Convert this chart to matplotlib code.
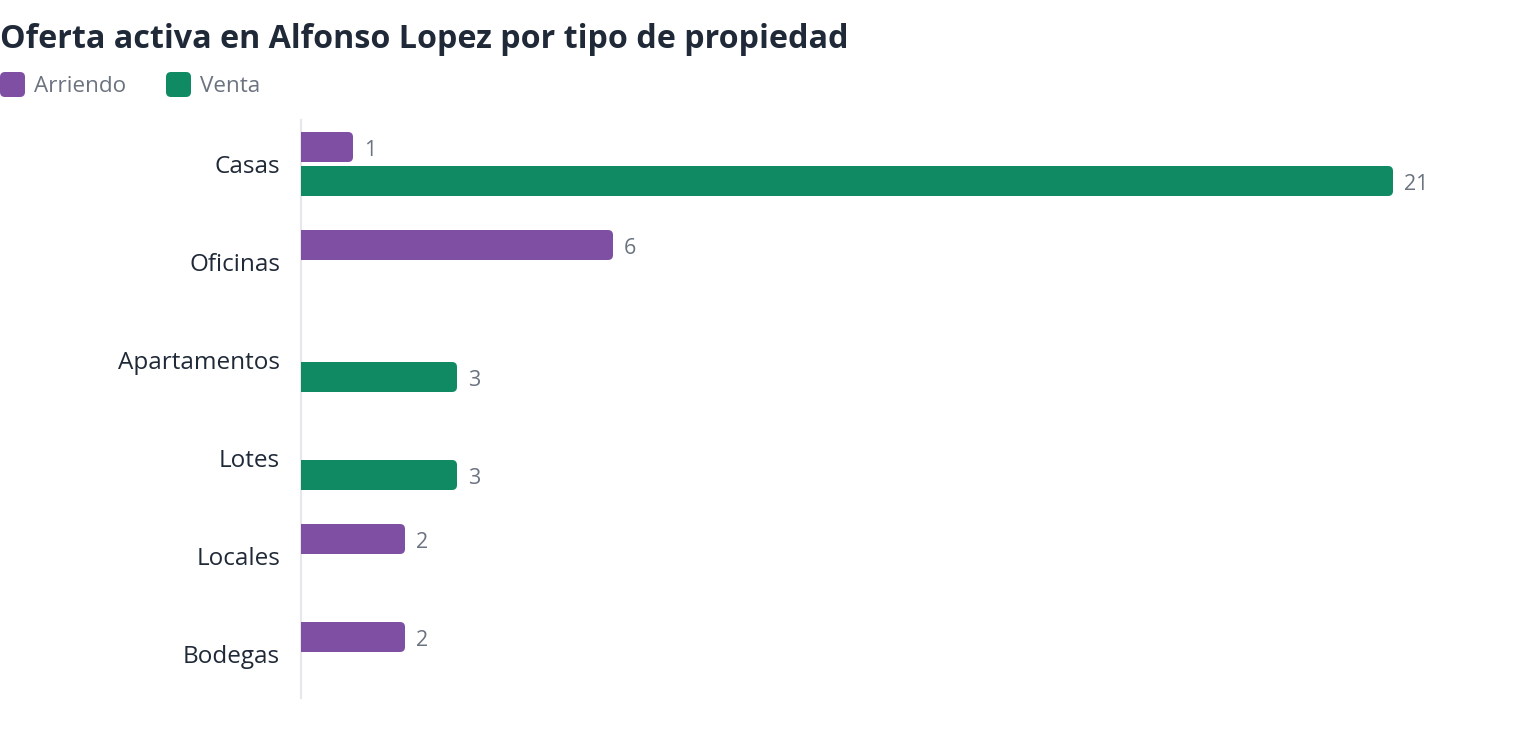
import matplotlib
matplotlib.use("Agg")
import matplotlib.pyplot as plt
from matplotlib.path import Path
from matplotlib.patches import PathPatch, FancyBboxPatch
from matplotlib.transforms import Affine2D

categories = ["Casas", "Oficinas", "Apartamentos", "Lotes", "Locales", "Bodegas"]
arriendo = [1, 6, 0, 0, 2, 2]
venta = [21, 0, 3, 3, 0, 0]
series_names = ["Arriendo", "Venta"]
colors = ["#7f4fa3", "#108a62"]

FONT = "Open Sans"
plt.rcParams["font.family"] = [FONT, "DejaVu Sans"]

W, H = 1520, 740
fig = plt.figure(figsize=(W / 100, H / 100), dpi=100)
ax_left, ax_right = 301, 1500
ax_top, ax_bot = 115, 703
ax = fig.add_axes([ax_left / W, 1 - ax_bot / H, (ax_right - ax_left) / W, (ax_bot - ax_top) / H])
px_per_unit = 52.0
ax.set_xlim(0, (ax_right - ax_left) / px_per_unit)
ax.set_ylim(len(categories) - 0.5, -0.5)

bh = 30 / 98
off = 17 / 98
r_px = 5
rx = r_px / px_per_unit
ry = r_px / 98


def rounded_bar(x0, y0, w, h, color):
    rxx = min(rx, w / 2)
    verts = [
        (x0, y0), (x0 + w - rxx, y0), (x0 + w, y0), (x0 + w, y0 + ry),
        (x0 + w, y0 + h - ry), (x0 + w, y0 + h), (x0 + w - rxx, y0 + h),
        (x0, y0 + h), (x0, y0),
    ]
    codes = [Path.MOVETO, Path.LINETO, Path.CURVE3, Path.CURVE3,
             Path.LINETO, Path.CURVE3, Path.CURVE3, Path.LINETO, Path.CLOSEPOLY]
    ax.add_patch(PathPatch(Path(verts, codes), facecolor=color, edgecolor="none", zorder=3))


for s, (vals, col, o) in enumerate(zip([arriendo, venta], colors, [-off, off])):
    ys = [i + o for i in range(len(categories))]
    bars = ax.barh(ys, vals, height=bh, color=col, alpha=0)
    for b, v in zip(bars, vals):
        if v <= 0:
            continue
        rounded_bar(b.get_x(), b.get_y(), b.get_width(), b.get_height(), col)
        ax.annotate(str(v), (b.get_width(), b.get_y() + b.get_height() / 2),
                    xytext=(11, -3), textcoords="offset pixels",
                    ha="left", va="center", fontsize=15.5, color="#6b7280", zorder=4)

ax.set_yticks(range(len(categories)))
ax.set_yticklabels(categories, fontsize=17.5, color="#1f2937")
for t in ax.get_yticklabels():
    t.set_transform(t.get_transform() + Affine2D().translate(0, -3))
ax.tick_params(axis="y", length=0, pad=15)
ax.set_xticks([])
for sp in ["top", "right", "bottom"]:
    ax.spines[sp].set_visible(False)
ax.spines["left"].set_color("#e5e7eb")
ax.spines["left"].set_linewidth(1.5)
ax.spines["left"].set_bounds(len(categories) - 0.55, -0.45)

fig.text(0 / W, 1 - 40 / H, "Oferta activa en Alfonso Lopez por tipo de propiedad",
         fontsize=23.2, fontweight="bold", color="#1f2937", ha="left", va="center")

# legend
leg_x = [0, 166]
for lx, name, col in zip(leg_x, series_names, colors):
    p = FancyBboxPatch((lx + 3, H - 97 + 3), 19, 19,
                       boxstyle="round,pad=3,rounding_size=5",
                       transform=None, facecolor=col, edgecolor="none")
    fig.add_artist(p)
    fig.text((lx + 34) / W, 1 - 87 / H, name, fontsize=16.2, color="#6b7280",
             ha="left", va="center")

fig.savefig("out.png", dpi=100)
